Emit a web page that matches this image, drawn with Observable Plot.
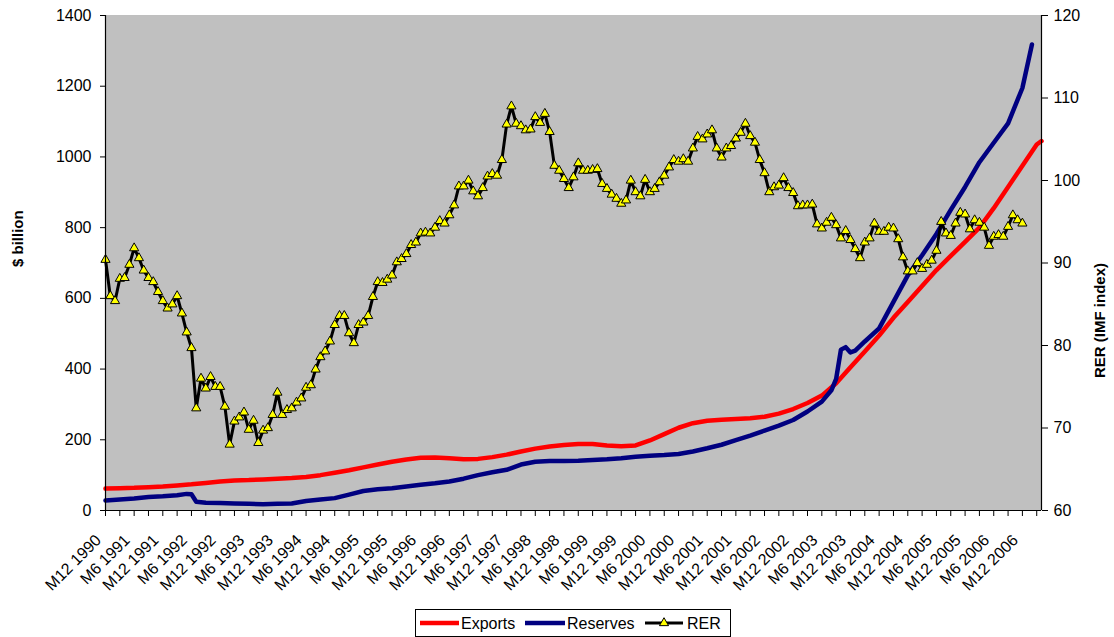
<!DOCTYPE html>
<html><head><meta charset="utf-8">
<script src="https://cdn.jsdelivr.net/npm/d3@7"></script>
<script src="https://cdn.jsdelivr.net/npm/@observablehq/plot@0.6"></script>
<style>
body{margin:0;background:#fff;}
#wrap{position:relative;width:1114px;height:637px;}
#legend{position:absolute;left:415px;top:609px;}
</style></head><body><div id="wrap"></div>
<script>
// Months counted from M12 1990 (index 0)
const xTickLabels = ["M12 1990","M6 1991","M12 1991","M6 1992","M12 1992","M6 1993","M12 1993","M6 1994","M12 1994","M6 1995","M12 1995","M6 1996","M12 1996","M6 1997","M12 1997","M6 1998","M12 1998","M6 1999","M12 1999","M6 2000","M12 2000","M6 2001","M12 2001","M6 2002","M12 2002","M6 2003","M12 2003","M6 2004","M12 2004","M6 2005","M12 2005","M6 2006","M12 2006"];
const leftTicks = [0,200,400,600,800,1000,1200,1400];
const rightTicks = [60,70,80,90,100,110,120];

// RER (IMF index), monthly from M12 1990
const rer = [90.4,86.0,85.4,88.1,88.2,89.8,91.8,90.6,89.1,88.2,87.7,86.5,85.4,84.5,85.0,86.0,83.9,81.6,79.7,72.4,
76.0,74.8,76.2,75.0,75.0,72.6,68.0,70.8,71.3,71.9,69.8,70.9,68.2,69.7,70.0,71.6,74.3,71.6,72.2,72.4,
73.1,73.6,74.9,75.2,77.1,78.6,79.3,80.5,82.5,83.6,83.6,81.5,80.3,82.5,82.8,83.6,85.9,87.7,87.6,88.0,
88.5,90.1,90.5,91.1,92.2,92.5,93.6,93.7,93.6,94.3,95.1,94.8,95.8,97.0,99.3,99.3,100.0,98.7,98.1,99.1,
100.5,100.8,100.6,102.5,106.8,109.0,106.9,106.6,106.1,106.2,107.7,107.0,108.1,105.9,101.8,101.2,100.2,99.1,100.4,102.1,
101.2,101.2,101.3,101.4,99.6,99.0,98.3,97.8,97.2,97.6,100.0,98.6,98.1,100.1,98.6,99.0,99.8,100.6,101.6,102.5,
102.3,102.6,102.3,103.9,105.3,105.0,105.6,106.1,103.9,102.8,103.9,104.2,105.1,105.8,106.9,105.4,104.6,102.5,100.9,98.6,
99.2,99.4,100.3,99.1,98.5,96.9,97.0,97.0,97.1,94.7,94.2,94.9,95.5,94.6,93.0,93.9,92.8,91.7,90.6,92.5,
93.0,94.8,93.8,93.8,94.3,94.2,92.9,90.7,89.0,89.0,90.0,89.3,89.8,90.3,91.5,95.0,93.6,93.3,94.8,96.1,
95.9,94.1,95.2,94.9,94.3,92.1,93.2,93.4,93.2,94.4,95.8,95.2,94.8];

// Exports ($ billion)
const exportsMonths = [0,3,6,9,12,15,18,21,24,27,30,33,36,39,42,45,48,51,54,57,60,63,66,69,72,75,78,81,84,87,90,93,96,99,102,105,108,111,114,117,120,123,126,129,132,135,138,141,144,147,150,153,156,159,162,165,168,171,174,177,180,183,186,189,192,195,196];
const exportsValues = [62,63,64,66,68,71,74,78,82,85,86,88,90,92,95,100,107,114,122,130,138,144,149,150,148,145,146,151,158,167,175,181,185,188,188,184,182,184,198,216,234,247,254,257,259,261,265,274,287,304,325,360,405,450,495,545,590,635,680,720,760,800,855,915,975,1035,1045];

// Reserves ($ billion)
const reservesMonths = [0,3,6,9,12,15,17,18,19,21,24,27,30,33,36,39,42,45,48,51,54,57,60,63,66,69,72,75,78,81,84,87,90,93,96,99,102,105,108,111,114,117,120,123,126,129,132,135,138,141,144,147,150,152,153,154,155,156,157,159,162,165,168,171,174,177,180,183,186,189,192,194];
const reservesValues = [28,31,34,38,40,43,47,46,25,22,21,20,19,18,19,20,27,31,35,45,55,60,63,68,73,77,82,90,100,108,115,130,138,140,140,141,143,145,148,152,155,157,160,167,176,186,199,212,226,240,256,280,308,340,372,455,462,447,452,478,515,590,665,722,782,850,915,985,1040,1095,1195,1318];

const rerToY = v => (v - 60) * 1400 / 60;
const rerData = rer.map((v, i) => ({m: i, y: rerToY(v)}));
const expData = exportsMonths.map((m, i) => ({m, v: exportsValues[i]}));
const resData = reservesMonths.map((m, i) => ({m, v: reservesValues[i]}));
const tickMonths = d3.range(0, 196, 3);
const labelData = xTickLabels.map((t, i) => ({m: i * 6, t}));

const font = '"Liberation Sans", Arial, sans-serif';
const chart = Plot.plot({
  width: 1114, height: 637,
  marginLeft: 105, marginRight: 73, marginTop: 15, marginBottom: 127,
  style: {fontFamily: font, fontSize: "16px", color: "#000", background: "#fff", overflow: "visible"},
  x: {domain: [0, 196]},
  y: {domain: [0, 1400]},
  marks: [
    Plot.frame({fill: "#c0c0c0", stroke: "#a0a0a0", strokeWidth: 0.5}),
    Plot.line(expData, {x: "m", y: "v", stroke: "#ff0000", strokeWidth: 4.5}),
    Plot.line(resData, {x: "m", y: "v", stroke: "#000080", strokeWidth: 4.5}),
    Plot.line(rerData, {x: "m", y: "y", stroke: "#000", strokeWidth: 3}),
    Plot.dot(rerData, {x: "m", y: "y", symbol: "triangle", r: 3.4, fill: "#ffff00", stroke: "#000", strokeWidth: 1}),
    Plot.ruleX([0, 196], {stroke: "#000", strokeWidth: 1.2}),
    Plot.ruleY([0], {stroke: "#000", strokeWidth: 1.2}),
    Plot.axisY(leftTicks, {anchor: "left", tickSize: 5, tickPadding: 9, label: null, tickFormat: d => `${d}`}),
    Plot.axisY(rightTicks.map(rerToY), {anchor: "right", tickSize: 6, tickPadding: 6, label: null, tickFormat: d => `${Math.round(60 + d * 60 / 1400)}`}),
    Plot.axisX(tickMonths, {anchor: "bottom", tickSize: 6, tickFormat: () => "", label: null}),
    Plot.text(labelData, {x: "m", y: 0, text: "t", rotate: -45, textAnchor: "end", dx: -7, dy: 27}),
    Plot.text(["$ billion"], {frameAnchor: "left", dx: -87, dy: 4, rotate: -90, fontWeight: "bold", fontSize: 15}),
    Plot.text(["RER (IMF index)"], {frameAnchor: "right", dx: 59, dy: 0, rotate: -90, fontWeight: "bold", fontSize: 15})
  ]
});
document.getElementById("wrap").appendChild(chart);

// Legend
const lg = d3.select("#wrap").append("svg").attr("id", "legend").attr("width", 317).attr("height", 29)
  .style("font-family", font).style("font-size", "16px");
lg.append("rect").attr("x", 0.5).attr("y", 0.5).attr("width", 315).attr("height", 27).attr("fill", "#fff").attr("stroke", "#000");
const items = [
  {name: "Exports", color: "#ff0000", x1: 5, x2: 44, tx: 46},
  {name: "Reserves", color: "#000080", x1: 110, x2: 150, tx: 152},
  {name: "RER", color: "#000", x1: 230, x2: 268, tx: 272, marker: true}
];
for (const it of items) {
  lg.append("line").attr("x1", it.x1).attr("x2", it.x2).attr("y1", 14).attr("y2", 14)
    .attr("stroke", it.color).attr("stroke-width", it.marker ? 3 : 4.5);
  if (it.marker) {
    const cx = (it.x1 + it.x2) / 2;
    lg.append("path").attr("d", d3.symbol(d3.symbolTriangle, 3.4 * 3.4 * Math.PI)())
      .attr("transform", `translate(${cx},14)`).attr("fill", "#ffff00").attr("stroke", "#000");
  }
  lg.append("text").attr("x", it.tx).attr("y", 20).text(it.name);
}
</script></body></html>
